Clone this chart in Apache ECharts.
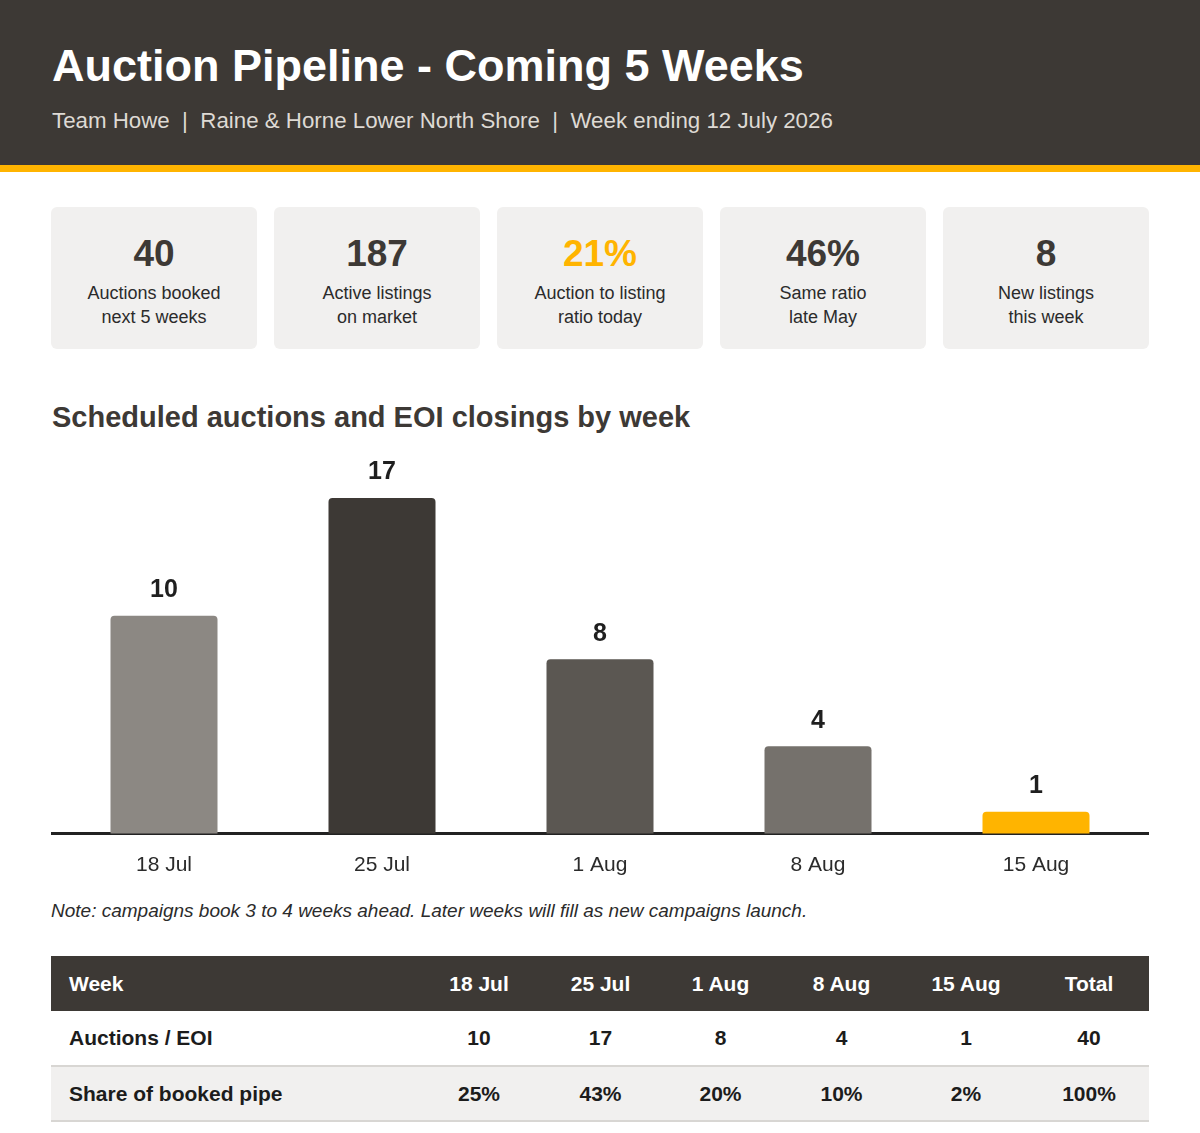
<!DOCTYPE html>
<html>
<head>
<meta charset="utf-8">
<script src="https://cdn.jsdelivr.net/npm/echarts@6/dist/echarts.min.js"></script>
<style>
  body { margin: 0; width: 1200px; height: 1133px; background: #fff; font-family: "Liberation Sans", Arial, sans-serif; color: #333; position: relative; overflow: hidden; }
  .hdr { position: absolute; left: 0; top: 0; width: 1200px; height: 165px; background: #3d3935; border-bottom: 7px solid #ffb400; }
  .hdr h1 { position: absolute; left: 52px; top: 43px; margin: 0; font-size: 45px; line-height: 45px; font-weight: bold; color: #fff; white-space: nowrap; }
  .hdr .sub { position: absolute; left: 52px; top: 110px; font-size: 22.3px; line-height: 22px; color: #dedad4; white-space: nowrap; }
  .card { position: absolute; top: 207px; width: 206px; height: 142px; background: #f1f0ef; border-radius: 6px; text-align: center; }
  .card .num { position: absolute; left: 0; right: 0; top: 28px; font-size: 37px; line-height: 37px; font-weight: bold; color: #3d3935; }
  .card .num.hi { color: #ffb400; }
  .card .lbl { position: absolute; left: 0; right: 0; top: 74px; font-size: 18px; line-height: 24px; color: #2b2b2b; }
  .sect { position: absolute; left: 52px; top: 403px; font-size: 29px; line-height: 29px; font-weight: bold; color: #3d3935; white-space: nowrap; }
  #chart { position: absolute; left: 0; top: 440px; width: 1200px; height: 460px; }
  .note { position: absolute; left: 51px; top: 901px; font-size: 19px; line-height: 19px; font-style: italic; color: #2b2b2b; white-space: nowrap; }
  table { position: absolute; left: 51px; top: 956px; width: 1098px; border-collapse: collapse; table-layout: fixed; font-size: 21px; font-weight: bold; }
  th, td { padding: 0; text-align: center; }
  th:first-child, td:first-child { text-align: left; padding-left: 18px; }
  thead tr { background: #3d3935; color: #fff; height: 55px; }
  tbody tr { height: 55px; color: #1c1c1c; border-bottom: 2px solid #d8d6d3; }
  tbody tr.alt { background: #f1f0ef; }
</style>
</head>
<body>
<div class="hdr">
  <h1>Auction Pipeline - Coming 5 Weeks</h1>
  <div class="sub">Team Howe &nbsp;|&nbsp; Raine &amp; Horne Lower North Shore &nbsp;|&nbsp; Week ending 12 July 2026</div>
</div>
<div id="cards"></div>
<div class="sect">Scheduled auctions and EOI closings by week</div>
<div id="chart"></div>
<div class="note">Note: campaigns book 3 to 4 weeks ahead. Later weeks will fill as new campaigns launch.</div>
<table id="tbl">
  <colgroup><col style="width:367px"><col style="width:122px"><col style="width:121px"><col style="width:119px"><col style="width:123px"><col style="width:126px"><col></colgroup>
  <thead></thead>
  <tbody></tbody>
</table>
<script>
// KPI cards
var kpiValues = ['40', '187', '21%', '46%', '8'];
var kpiLabels = [['Auctions booked', 'next 5 weeks'], ['Active listings', 'on market'], ['Auction to listing', 'ratio today'], ['Same ratio', 'late May'], ['New listings', 'this week']];

// chart + table data
var weeks = ['18 Jul', '25 Jul', '1 Aug', '8 Aug', '15 Aug'];
var auctions = [10, 17, 8, 4, 1];
var sharePct = [25, 43, 20, 10, 2];
var totalAuctions = 40;
var totalShare = 100;

var barColors = ['#8c8883', '#3d3935', '#5b5752', '#75716c', '#ffb400'];

var cardsHtml = '';
for (var i = 0; i < kpiValues.length; i++) {
  cardsHtml += '<div class="card" style="left:' + (51 + i * 223) + 'px">' +
    '<div class="num' + (i === 2 ? ' hi' : '') + '">' + kpiValues[i] + '</div>' +
    '<div class="lbl">' + kpiLabels[i].join('<br>') + '</div></div>';
}
document.getElementById('cards').innerHTML = cardsHtml;

var tbl = document.getElementById('tbl');
tbl.tHead.innerHTML = '<tr><th>Week</th>' + weeks.map(function (w) { return '<th>' + w + '</th>'; }).join('') + '<th>Total</th></tr>';
tbl.tBodies[0].innerHTML =
  '<tr><td>Auctions / EOI</td>' + auctions.map(function (v) { return '<td>' + v + '</td>'; }).join('') + '<td>' + totalAuctions + '</td></tr>' +
  '<tr class="alt"><td>Share of booked pipe</td>' + sharePct.map(function (v) { return '<td>' + v + '%</td>'; }).join('') + '<td>' + totalShare + '%</td></tr>';

var myChart = echarts.init(document.getElementById('chart'));
myChart.setOption({
  animation: false,
  grid: { left: 55, right: 55, top: 58, height: 335.5 },
  xAxis: {
    type: 'category',
    data: weeks,
    axisLine: { lineStyle: { color: '#222', width: 3 } },
    axisTick: { show: false },
    axisLabel: { fontSize: 21, color: '#2b2b2b', margin: 21, fontFamily: 'Liberation Sans' }
  },
  yAxis: {
    type: 'value',
    min: 0,
    max: 15.4,
    show: false,
    splitLine: { show: false }
  },
  // baseline runs a little past the plot area on both sides
  graphic: [{
    type: 'line',
    shape: { x1: 51, y1: 393.5, x2: 1149, y2: 393.5 },
    style: { stroke: '#222', lineWidth: 3 },
    z: 1
  }],
  series: [{
    type: 'bar',
    barWidth: 107,
    data: auctions,
    itemStyle: {
      borderRadius: [4, 4, 0, 0],
      color: function (p) { return barColors[p.dataIndex]; }
    },
    label: {
      show: true,
      position: 'top',
      distance: 13,
      fontSize: 25,
      fontWeight: 'bold',
      color: '#1f1f1f',
      fontFamily: 'Liberation Sans'
    }
  }]
});
</script>
</body>
</html>
